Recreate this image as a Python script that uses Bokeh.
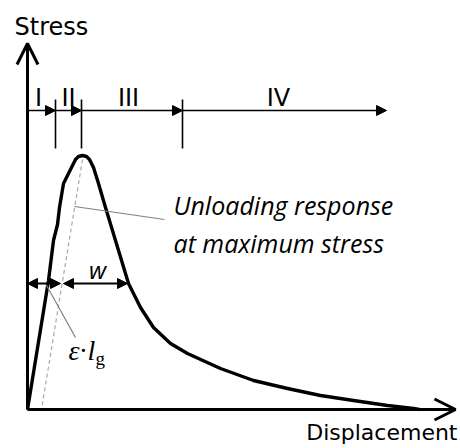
from bokeh.plotting import figure
from bokeh.models import Range1d, Arrow, NormalHead, OpenHead
from bokeh.core.properties import value
from bokeh.embed import file_html
from bokeh.resources import INLINE

# ---- schematic data (displacement, stress in arbitrary units) ----
curve_disp = [0, 21, 26, 30, 32, 36, 41, 46, 48, 51, 55, 59, 62, 66, 71, 78, 88,
              101, 113, 126, 143, 160, 193, 226, 260, 293, 326, 360, 386, 392]
curve_stress = [0, 129, 169, 185, 202, 226, 236, 246, 250, 253, 254, 253, 250, 242, 226, 202, 169,
                126, 102, 82, 66, 56, 41, 29, 21, 14, 9, 4, 1, 0]

unload_disp = [55, 14]
unload_stress = [250, 0]

stage_bounds = [0, 28, 54, 155, 359]
stage_level = 299
stage_tick_low = 261
stage_tick_high = 310
stage_labels = ["I", "II", "III", "IV"]
stage_label_x = [11, 41, 101, 251]
stage_label_y = [312, 312, 312, 312]

axis_y_top = 366
axis_x_end = 428

w_level = 126
eps_range = [0, 33]
w_range = [36, 100]

unload_ptr_x = [47, 137]
unload_ptr_y = [203, 190]
eps_ptr_x = [18, 48]
eps_ptr_y = [126, 72]

p = figure(width=460, height=448, x_range=Range1d(-27, 433), y_range=Range1d(-39, 409),
           output_backend="svg", toolbar_location=None, min_border=0,
           x_axis_type=None, y_axis_type=None)
p.grid.visible = False
p.outline_line_color = None
p.background_fill_color = "white"

# main curve
p.line(curve_disp, curve_stress, line_width=3.4, line_color="black", line_join="round")
# unloading dashed line
p.line(unload_disp, unload_stress, line_width=1.2, line_color="#a8a8a8", line_dash="4 3")

# axes with open arrow heads
p.add_layout(Arrow(end=OpenHead(size=21, line_width=3, line_color="black"),
                   x_start=0, y_start=0, x_end=0, y_end=axis_y_top,
                   line_width=3, line_color="black"))
p.add_layout(Arrow(end=OpenHead(size=21, line_width=3, line_color="black"),
                   x_start=0, y_start=0, x_end=axis_x_end, y_end=0,
                   line_width=3, line_color="black"))

# stage arrows
for a, b in zip(stage_bounds[:-1], stage_bounds[1:]):
    p.add_layout(Arrow(end=NormalHead(size=10, fill_color="black", line_color="black", line_width=1),
                       x_start=a, y_start=stage_level, x_end=b, y_end=stage_level,
                       line_width=1.6, line_color="black"))
p.segment(x0=stage_bounds[1:4], y0=[stage_tick_low] * 3, x1=stage_bounds[1:4], y1=[stage_tick_high] * 3,
          line_width=1.6, line_color="black")
p.text(x=stage_label_x, y=stage_label_y, text=stage_labels, text_font=value("DejaVu Sans"),
       text_font_size="24px", text_align="center", text_baseline="alphabetic", text_color="black")

# double arrows
for rng in (eps_range, w_range):
    p.add_layout(Arrow(start=NormalHead(size=10, fill_color="black", line_color="black", line_width=1),
                       end=NormalHead(size=10, fill_color="black", line_color="black", line_width=1),
                       x_start=rng[0], y_start=w_level, x_end=rng[1], y_end=w_level,
                       line_width=2, line_color="black"))

# pointer lines
p.line(unload_ptr_x, unload_ptr_y, line_width=1.2, line_color="#808080")
p.line(eps_ptr_x, eps_ptr_y, line_width=1.2, line_color="#808080")

# labels
p.text(x=[-13], y=[383], text=["Stress"], text_font=value("DejaVu Sans"), text_font_size="24px",
       text_align="left", text_baseline="alphabetic", text_color="black")
p.text(x=[430], y=[-23], text=["Displacement"], text_font=value("DejaVu Sans"), text_font_size="22px",
       text_align="right", text_baseline="alphabetic", text_color="black")
p.text(x=[146, 146], y=[205, 167], text=["Unloading response", "at maximum stress"],
       text_font=value("Open Sans"), text_font_style="italic", text_font_size="25px",
       text_align="left", text_baseline="alphabetic", text_color="black")
p.text(x=[70], y=[140], text=["w"], text_font=value("Open Sans"), text_font_style="italic",
       text_font_size="24px", text_align="center", text_baseline="alphabetic", text_color="black")
p.text(x=[41], y=[59], text=["ε·"], text_font=value("Liberation Serif"), text_font_style="italic",
       text_font_size="28px", text_align="left", text_baseline="alphabetic", text_color="black")
p.text(x=[60], y=[59], text=["l"], text_font=value("Liberation Serif"), text_font_style="italic",
       text_font_size="28px", text_align="left", text_baseline="alphabetic", text_color="black")
p.text(x=[68], y=[51], text=["g"], text_font=value("Liberation Serif"),
       text_font_size="19px", text_align="left", text_baseline="alphabetic", text_color="black")

open("out.html", "w").write(file_html(p, INLINE))
